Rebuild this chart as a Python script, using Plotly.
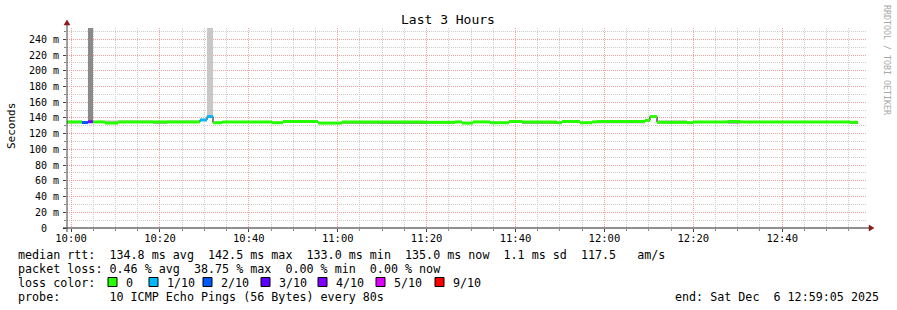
import plotly.graph_objects as go
from datetime import datetime

DAY = "2025-12-06"
T_START = "09:59:05"
T_END = "12:59:05"

# median rtt segments (step line), loss in tenths, smoke band per segment
seg_start = ["09:59:05", "10:02:27", "10:03:48", "10:04:56", "10:07:38", "10:10:33",
             "10:18:26", "10:21:35", "10:29:00", "10:30:35", "10:31:56", "10:34:00",
             "10:45:12", "10:47:41", "10:55:33", "11:00:57", "11:09:03", "11:19:38",
             "11:26:23", "11:27:57", "11:30:26", "11:34:15", "11:38:32", "11:41:27",
             "11:49:20", "11:50:27", "11:54:30", "11:57:12", "11:58:20", "12:09:08",
             "12:10:15", "12:11:50", "12:18:35", "12:19:56", "12:27:48", "12:30:30",
             "12:55:15"]
data_end = "12:57:03"
seg_rtt = [135.0, 134.2, 135.2, 135.0, 133.6, 135.0,
           135.0, 135.0, 137.5, 141.8, 134.0, 135.0,
           134.0, 135.5, 133.5, 135.0, 135.0, 134.5,
           135.0, 133.5, 135.0, 134.0, 135.5, 135.0,
           134.0, 135.5, 134.0, 135.0, 135.5, 137.0,
           141.8, 134.5, 134.0, 135.0, 135.5, 135.0,
           134.5]
seg_loss = [0, 2, 4, 0, 0, 0,
            0, 0, 1, 1, 0, 0,
            0, 0, 0, 0, 0, 0,
            0, 0, 0, 0, 0, 0,
            0, 0, 0, 0, 0, 0,
            0, 0, 0, 0, 0, 0,
            0]
smoke_lo = [133.2, 133.4, 135.5, 134.0, 132.6, 134.0,
            132.8, 134.0, 136.2, 141.0, 132.8, 134.0,
            132.6, 133.6, 132.6, 132.8, 133.6, 132.8,
            134.0, 132.6, 134.0, 133.0, 134.2, 132.8,
            133.0, 134.2, 133.0, 134.0, 133.2, 136.0,
            141.0, 133.0, 133.0, 133.6, 132.8, 134.0,
            133.2]
smoke_hi = [135.8, 135.0, 300.0, 135.8, 137.0, 137.2,
            135.8, 137.0, 138.5, 300.0, 135.5, 136.0,
            135.0, 136.2, 134.6, 136.0, 136.0, 135.5,
            136.0, 134.6, 136.0, 135.0, 136.4, 136.0,
            135.0, 136.4, 135.0, 136.0, 136.4, 138.0,
            142.6, 136.6, 135.0, 136.2, 137.2, 136.2,
            135.5]
smoke_shade = ["dark", "light", "dark", "light", "light", "light",
               "dark", "light", "light", "light", "light", "light",
               "light", "dark", "light", "dark", "dark", "dark",
               "light", "dark", "light", "light", "light", "dark",
               "light", "light", "light", "light", "dark", "light",
               "light", "dark", "light", "light", "dark", "light",
               "dark"]

loss_levels = [0, 1, 2, 3, 4, 5, 9]
loss_colors = ["#26ff00", "#00b8ff", "#0059ff", "#5e00ff", "#7e00ff", "#dd00ff", "#ff0000"]
loss_labels = ["0", "1/10", "2/10", "3/10", "4/10", "5/10", "9/10"]

y_tickvals = [0, 20, 40, 60, 80, 100, 120, 140, 160, 180, 200, 220, 240]
y_ticktext = ["0\u00a0\u00a0", "20 m", "40 m", "60 m", "80 m", "100 m", "120 m", "140 m",
              "160 m", "180 m", "200 m", "220 m", "240 m"]
Y_MAX = 254.5

line1 = "median rtt:  134.8 ms avg  142.5 ms max  133.0 ms min  135.0 ms now  1.1 ms sd  117.5   am/s"
line2 = "packet loss: 0.46 % avg  38.75 % max  0.00 % min  0.00 % now"
line3 = "loss color:"
line4 = "probe:       10 ICMP Echo Pings (56 Bytes) every 80s"
end_text = "end: Sat Dec  6 12:59:05 2025"
title_text = "Last 3 Hours"
ylabel_text = "Seconds"
side_text = "RRDTOOL / TOBI OETIKER"

# ---------------------------------------------------------------
W, H = 897, 310
L, R, T, B = 67, 30, 28, 82
PW, PH = W - L - R, H - T - B
MONO = "DejaVu Sans Mono"


def dt(s):
    return datetime.fromisoformat(f"{DAY} {s}")


def px(x):
    return (x - L) / PW


def py(y):
    return (H - B - y) / PH


starts = [dt(s) for s in seg_start]
ends = starts[1:] + [dt(data_end)]

fig = go.Figure()

# smoke
for shade, col in [("light", "#c8c8c8"), ("dark", "#8a8a8a")]:
    xs, ys, bs, ws = [], [], [], []
    for s, e, lo, hi, sh in zip(starts, ends, smoke_lo, smoke_hi, smoke_shade):
        if sh != shade:
            continue
        xs.append(s + (e - s) / 2)
        ys.append(hi - lo)
        bs.append(lo)
        ws.append((e - s).total_seconds() * 1000)
    fig.add_trace(go.Bar(x=xs, y=ys, base=bs, width=ws, marker=dict(color=col, line=dict(width=0)),
                         hoverinfo="skip"))

# thin black step under the coloured median
fig.add_trace(go.Scatter(x=starts + [ends[-1]], y=seg_rtt + [seg_rtt[-1]], mode="lines",
                         line=dict(color="#000000", width=1, shape="hv"), hoverinfo="skip"))


def loss_color(v):
    best = min(range(len(loss_levels)), key=lambda i: abs(loss_levels[i] - v))
    return loss_colors[best]


for lvl, col in zip(loss_levels, loss_colors):
    xs, ys = [], []
    for s, e, v, lo in zip(starts, ends, seg_rtt, seg_loss):
        if loss_color(lo) != col:
            continue
        xs += [s, e, None]
        ys += [v, v, None]
    if xs:
        fig.add_trace(go.Scatter(x=xs, y=ys, mode="lines", line=dict(color=col, width=3),
                                 hoverinfo="skip", connectgaps=False))

MAJ_GRID = "#f2a0a0"
MIN_GRID = "#cccccc"
DASH = "1px,1px"

fig.update_layout(
    width=W, height=H, margin=dict(l=L, r=R, t=T, b=B, autoexpand=False),
    paper_bgcolor="white", plot_bgcolor="white", showlegend=False, barmode="overlay",
    font=dict(family=MONO, color="#000000"),
    xaxis=dict(type="date", range=[dt(T_START), dt(T_END)], automargin=False,
               tickformat="%H:%M", dtick=1200000, tick0=f"{DAY} 10:00:00",
               showgrid=True, gridcolor=MAJ_GRID, griddash=DASH, gridwidth=1,
               ticks="outside", ticklen=3, tickcolor="#444444", ticklabelstandoff=-3,
               tickfont=dict(family=MONO, size=10.5, color="#000000"),
               minor=dict(dtick=300000, tick0=f"{DAY} 10:00:00", showgrid=True,
                          gridcolor=MIN_GRID, griddash=DASH, ticks="outside", ticklen=2,
                          tickcolor="#888888"),
               showline=False, zeroline=False, fixedrange=True),
    yaxis=dict(range=[0, Y_MAX], automargin=False, tickvals=y_tickvals, ticktext=y_ticktext,
               showgrid=True, gridcolor=MAJ_GRID, griddash=DASH, gridwidth=1,
               ticks="outside", ticklen=3, tickcolor="#444444", ticklabelstandoff=2,
               tickfont=dict(family=MONO, size=10, color="#000000"),
               minor=dict(dtick=10, tick0=0, showgrid=True, gridcolor=MIN_GRID, griddash=DASH,
                          ticks="outside", ticklen=2, tickcolor="#888888"),
               showline=False, zeroline=False, fixedrange=True),
)

shapes = []
# axis lines
shapes.append(dict(type="line", xref="paper", yref="paper", x0=px(63), x1=px(869),
                   y0=0, y1=0, line=dict(color="#202020", width=1), layer="above"))
shapes.append(dict(type="line", xref="paper", yref="paper", x0=0, x1=0,
                   y0=py(232), y1=py(24), line=dict(color="#404040", width=1), layer="above"))
# arrows
ARROW = "#8b1a1a"
shapes.append(dict(type="path", xref="paper", yref="paper",
                   path=f"M {px(869)} {py(225)} L {px(874)} {py(228)} L {px(869)} {py(231)} Z",
                   fillcolor=ARROW, line=dict(color=ARROW, width=0.5), layer="above"))
shapes.append(dict(type="path", xref="paper", yref="paper",
                   path=f"M {px(64)} {py(25)} L {px(67)} {py(20)} L {px(70)} {py(25)} Z",
                   fillcolor=ARROW, line=dict(color=ARROW, width=0.5), layer="above"))

annotations = []


def text(x, y, s, size=11.7, color="#000000", xanchor="left", angle=0):
    annotations.append(dict(xref="paper", yref="paper", x=px(x), y=py(y), text=s,
                            showarrow=False, xanchor=xanchor, yanchor="middle",
                            textangle=angle, font=dict(family=MONO, size=size, color=color)))


text(448, 19, title_text, size=13, xanchor="center")
text(11, 126, ylabel_text, size=11, xanchor="center", angle=-90)
text(887, 60, side_text, size=8.3, color="#a8a8a8", xanchor="center", angle=90)
text(16, 255, line1)
text(16, 269, line2)
text(16, 283, line3)
text(16, 297, line4)
text(881, 297, end_text, xanchor="right")

box_x = [108, 149, 203, 261, 318, 376, 435]
for bx, col, lab in zip(box_x, loss_colors, loss_labels):
    shapes.append(dict(type="rect", xref="paper", yref="paper", x0=px(bx), x1=px(bx + 9),
                       y0=py(286.5), y1=py(277.5), fillcolor=col,
                       line=dict(color="#000000", width=1)))
    text(bx + 15.5, 283, lab)

fig.update_layout(shapes=shapes, annotations=annotations)
fig.write_html("out.html")
